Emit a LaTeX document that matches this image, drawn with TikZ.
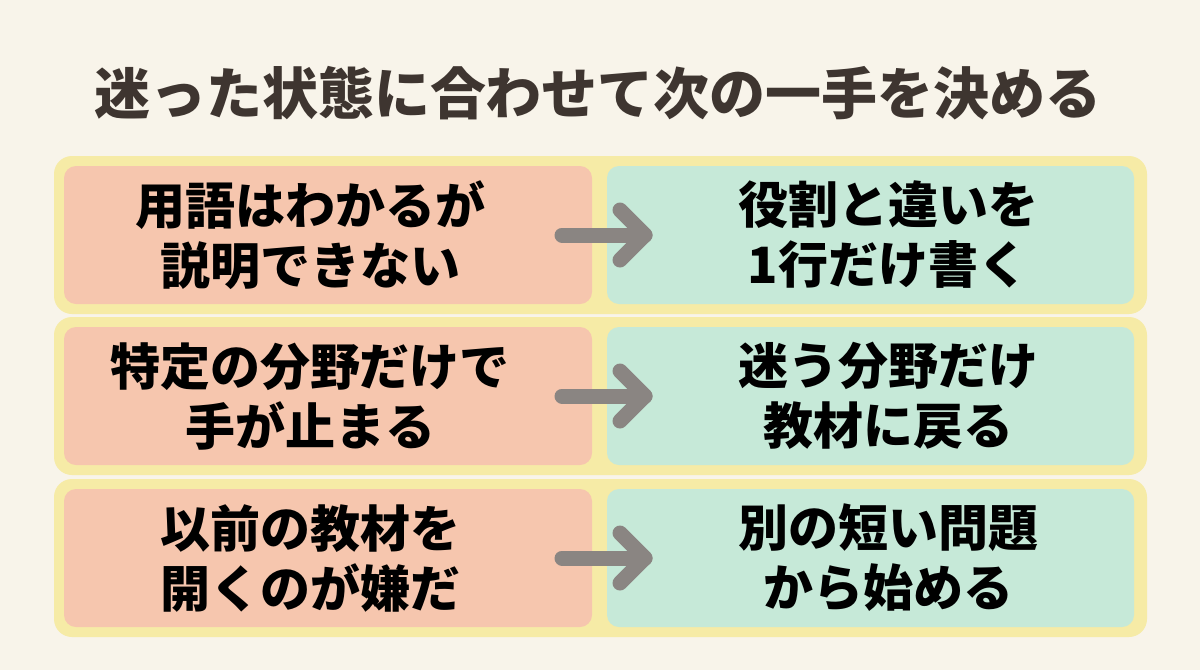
\documentclass[tikz,border=0pt]{standalone}
\usepackage{fontspec}
\setmainfont{Noto Sans CJK JP}[BoldFont={Noto Sans CJK JP Black}]
\begin{document}
\begin{tikzpicture}[x=1pt,y=-1pt,
 outer/.style={fill=yellowrim,rounded corners=18pt},
 lbox/.style={fill=salmon,rounded corners=12pt},
 rbox/.style={fill=mint,rounded corners=12pt},
 txt/.style={font=\bfseries\fontsize{50}{60}\selectfont,align=center,text=black},
 arr/.style={draw=arrgray,line width=15pt,line cap=round,line join=round}]
\definecolor{bg}{HTML}{F8F4EA}
\definecolor{yellowrim}{HTML}{F6EBA6}
\definecolor{salmon}{HTML}{F6C6AE}
\definecolor{mint}{HTML}{C6E9D8}
\definecolor{arrgray}{HTML}{8A8582}
\definecolor{titlec}{HTML}{3E3530}
\fill[bg] (0,0) rectangle (1200,670);
\useasboundingbox (0,0) rectangle (1200,670);
\node[font=\bfseries\fontsize{56}{60}\selectfont,text=titlec] (title) at (598,93) {迷った状態に合わせて次の一手を決める};
\foreach \i/\y/\a/\b in {1/235/{用語はわかるが\\説明できない}/{役割と違いを\\1行だけ書く},
 2/396/{特定の分野だけで\\手が止まる}/{迷う分野だけ\\教材に戻る},
 3/558/{以前の教材を\\開くのが嫌だ}/{別の短い問題\\から始める}}{
 \fill[outer] (54,\y-79) rectangle (1147,\y+79);
 \fill[lbox] (64,\y-69) rectangle (592,\y+69);
 \fill[rbox] (607,\y-69) rectangle (1134,\y+69);
 \node[txt] (l\i) at (310,\y) {\a};
 \node[txt] (r\i) at (888,\y) {\b};
 \coordinate (s\i) at (562,\y);
 \coordinate (e\i) at (645,\y);
 \draw[arr] (s\i) -- (e\i);
 \draw[arr] (620,\y-25) -- (e\i) -- (620,\y+25);
}
\end{tikzpicture}
\end{document}
